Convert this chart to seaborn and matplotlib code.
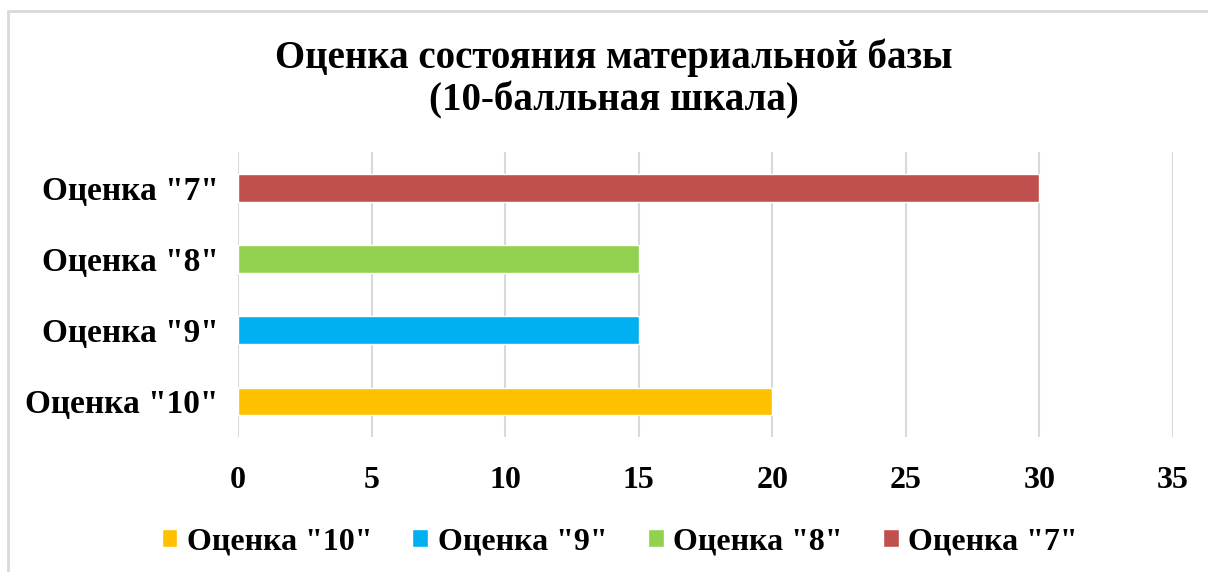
import matplotlib
matplotlib.use("Agg")
import matplotlib.pyplot as plt
import seaborn as sns
import pandas as pd
from matplotlib.patches import Rectangle

# values
categories = ['Оценка "7"', 'Оценка "8"', 'Оценка "9"', 'Оценка "10"']
values = [30, 15, 15, 20]
colors = ["#C0504D", "#92D050", "#00B0F0", "#FFC000"]
x_ticks = [0, 5, 10, 15, 20, 25, 30, 35]

df = pd.DataFrame({"cat": categories, "val": values})

sns.set_style("white")
plt.rcParams["font.family"] = ["Liberation Serif", "DejaVu Serif"]
plt.rcParams["font.weight"] = "bold"
plt.rcParams["text.color"] = "black"
plt.rcParams["xtick.color"] = "black"
plt.rcParams["ytick.color"] = "black"

fig = plt.figure(figsize=(12.08, 5.72), dpi=100)
ax = fig.add_axes([0.197, 0.236, 0.774, 0.498])

sns.barplot(data=df, x="val", y="cat", hue="cat", palette=colors,
            order=categories, hue_order=categories, width=0.39,
            saturation=1, dodge=False, legend=True, ax=ax)

ax.set_xlim(0, 35)
ax.set_ylim(3.5, -0.5)
ax.set_xticks(x_ticks)
ax.set_xticklabels([str(t) for t in x_ticks], fontsize=23, fontweight="bold")
ax.set_yticks(range(len(categories)))
ax.set_yticklabels(categories, fontsize=24, fontweight="bold")
ax.tick_params(axis="both", length=0)
ax.tick_params(axis="x", pad=21)
ax.tick_params(axis="y", pad=14)
ax.set_xlabel("")
ax.set_ylabel("")
ax.grid(axis="x", color="#D9D9D9", linewidth=1.5)
ax.set_axisbelow(True)
for s in ax.spines.values():
    s.set_visible(False)

fig.text(0.508, 1 - 79 / 572, "Оценка состояния материальной базы\n(10-балльная шкала)",
         ha="center", va="center", fontsize=28, fontweight="bold", linespacing=1.16)

handles, labels = ax.get_legend_handles_labels()
ax.get_legend().remove()
fig.legend(handles[::-1], labels[::-1], loc="center", bbox_to_anchor=(0.513, 0.053),
           ncol=4, frameon=False, prop={"size": 23, "weight": "bold"},
           handlelength=0.5, handleheight=0.5, handletextpad=0.3, columnspacing=1.25)

# light frame around the chart area (only left/top visible in the crop)
fig.patches.append(Rectangle((8 / 1208, -0.1), 1.2, 1.1 - 11 / 572,
                             transform=fig.transFigure, fill=False,
                             edgecolor="#D9D9D9", linewidth=2))

fig.savefig("out.png", dpi=100)
